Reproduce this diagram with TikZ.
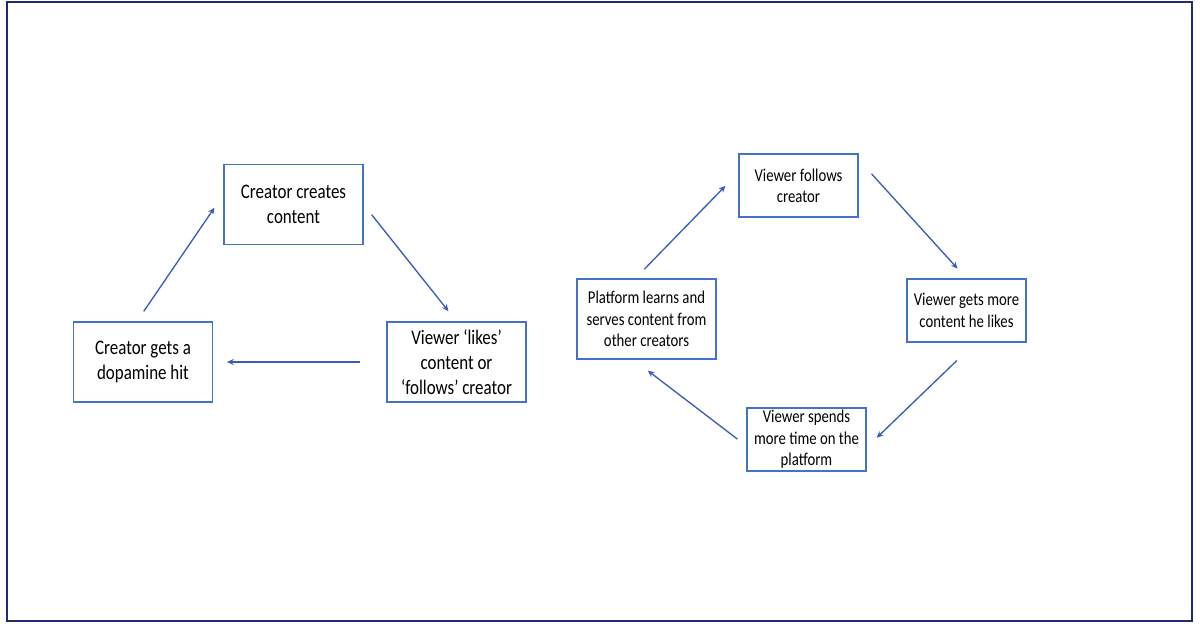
\documentclass[tikz,border=0pt]{standalone}
\usepackage{fontspec}
\setmainfont{Carlito}[FakeStretch=0.82]
\usepackage{tikz}
\usetikzlibrary{arrows.meta}
\definecolor{boxblue}{HTML}{4472C4}
\definecolor{arrowblue}{HTML}{3B5BB5}
\definecolor{framenavy}{HTML}{1F2B6E}
\tikzstyle{stage}=[draw=boxblue,line width=1.1pt,align=center,inner sep=0pt]
\tikzstyle{big stage}=[stage,minimum width=104pt,minimum height=60pt,font=\fontsize{15.5}{18.75}\selectfont]
\tikzstyle{small stage}=[stage,minimum width=89pt,minimum height=47pt,font=\fontsize{13.5}{16}\selectfont]
\tikzstyle{flow}=[draw=arrowblue,line width=1pt,-{Stealth[length=5pt,width=4.5pt]}]

\begin{document}
\begin{tikzpicture}[x=0.75pt,y=-0.75pt]
    \useasboundingbox (0,0) rectangle (1200,629);
    \draw[framenavy,line width=1.5pt] (7,2) rectangle (1192,621);
    % creator loop
    \node[big stage] (create) at (293.5,204.5) {Creator creates\\content};
    \node[big stage] (dopa) at (143,362) {Creator gets a\\dopamine hit};
    \node[big stage] (likes) at (456.5,362) {Viewer ‘likes’\\content or\\‘follows’ creator};
    \path[flow,shorten <=9pt,shorten >=12pt] ([shift={(-6,0)}]dopa.north) -- ([shift={(0,-10)}]create.west);
    \path[flow,shorten <=9.75pt,shorten >=9.75pt] (create.east) -- (likes.north);
    \path[flow,shorten <=19.5pt,shorten >=10.5pt] (likes.west) -- (dopa.east);
    % viewer loop
    \node[small stage] (follows) at (798.5,185.5) {Viewer follows\\creator};
    \node[small stage] (more) at (966.5,310.5) {Viewer gets more\\content he likes};
    \node[small stage] (spend) at (806.5,439.5) {Viewer spends\\more time on the\\platform};
    \node[big stage,font=\fontsize{13.5}{16}\selectfont] (platform) at (646.5,319) {Platform learns and\\serves content from\\other creators};
    \path[flow,shorten <=9.5pt,shorten >=14pt] ([shift={(-11,0)}]platform.north) -- ([shift={(0,-13)}]follows.west);
    \path[flow,shorten <=14.5pt,shorten >=10pt] ([shift={(0,-26)}]follows.east) -- (more.north);
    \path[flow,shorten <=19.5pt,shorten >=10.5pt] ([shift={(9,0)}]more.south) -- ([shift={(0,8)}]spend.east);
    \path[flow,shorten <=8.5pt,shorten >=13.5pt] ([shift={(0,6.5)}]spend.west) -- ([shift={(-13,0)}]platform.south);
\end{tikzpicture}
\end{document}
